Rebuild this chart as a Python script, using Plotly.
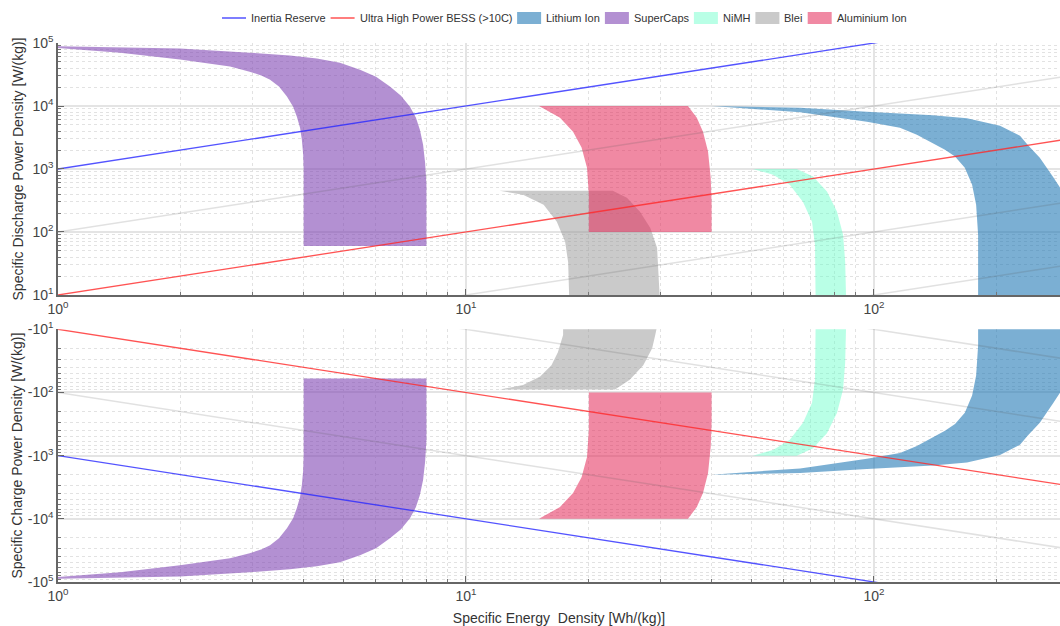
import plotly.graph_objects as go
from plotly.subplots import make_subplots

# ---------------- axis ticks ----------------
x_tickvals = [1, 10, 100]
x_ticktext = ["10<sup>0</sup>", "10<sup>1</sup>", "10<sup>2</sup>"]
y_tickvals = [10, 100, 1000, 10000, 100000]
y_top_ticktext = ["10<sup>1</sup>", "10<sup>2</sup>", "10<sup>3</sup>", "10<sup>4</sup>", "10<sup>5</sup>"]
y_bot_ticktext = ["-10<sup>1</sup>", "-10<sup>2</sup>", "-10<sup>3</sup>", "-10<sup>4</sup>", "-10<sup>5</sup>"]

# ---------------- reference C-rate lines (P = rate * E) ----------------
line_E = [0.5, 1000]
inertia_rate = 1000
bess_rate = 10
grey_rates = [0.1, 1, 100]

# ---------------- technology envelopes (E [Wh/kg], |P| [W/kg]) ----------------
# Lithium Ion - discharge
li_dis_outer_E = [40, 65.9, 96.1, 139.5, 169, 203.7, 228, 238, 255, 265.5, 274.6, 286, 295.5, 300.6, 300]
li_dis_outer_P = [10000, 9400, 8110, 7140, 6400, 4860, 3370, 2430, 1510, 1045, 752, 502, 187, 52, 5]
li_dis_inner_E = [40, 65.9, 96.1, 115.8, 127.4, 149.3, 158, 167, 174, 178, 180, 180]
li_dis_inner_P = [10000, 7960, 5620, 4520, 3500, 2020, 1580, 1045, 561, 270, 90, 5]
# Lithium Ion - charge
li_chg_outer_E = li_dis_outer_E
li_chg_outer_P = [2000, 1880, 1620, 1430, 1280, 972, 674, 486, 302, 209, 150, 100, 37, 10.4, 1]
li_chg_inner_E = li_dis_inner_E
li_chg_inner_P = [2000, 1590, 1124, 904, 700, 404, 316, 209, 112, 54, 18, 1]

# SuperCaps (discharge and charge)
sc_outer_E = [1.0, 1.42, 1.99, 2.95, 3.70, 4.31, 4.91, 5.50, 6.02, 6.51, 6.93, 7.29, 7.54, 7.71, 7.85, 7.94, 8.0, 8.0]
sc_outer_P = [89000, 86000, 81500, 70300, 63100, 56500, 48800, 37700, 29200, 20300, 14600, 9750, 6520, 4200, 2430, 1255, 561, 60]
sc_inner_E = [1.0, 1.42, 1.99, 2.64, 2.95, 3.16, 3.31, 3.48, 3.64, 3.77, 3.85, 3.92, 3.96, 3.99, 4.0, 4.0]
sc_inner_P = [83000, 70300, 54500, 42200, 35100, 30300, 26200, 20300, 14100, 9750, 6760, 4520, 2910, 1680, 970, 60]

# NiMH (discharge and charge)
nimh_outer_E = [64.7, 70.9, 76.7, 81.2, 84.0, 85.0, 85.4, 85.4]
nimh_outer_P = [1000, 760, 440, 210, 90, 34, 10, 5]
nimh_inner_E = [50.5, 56.6, 62.2, 67.0, 70.5, 71.7, 72.0, 72.0]
nimh_inner_P = [1000, 810, 560, 300, 146, 62, 10, 5]

# Blei (lead acid) - discharge
pb_dis_outer_E = [22.9, 24.8, 26.7, 28.3, 29.4, 29.7, 29.9, 30.0]
pb_dis_outer_P = [450, 350, 210, 116, 56, 23, 10, 5]
pb_dis_inner_E = [12.1, 13.8, 15.5, 16.7, 17.5, 17.8, 17.9, 17.9]
pb_dis_inner_P = [450, 390, 270, 145, 70, 33, 10, 5]
# Blei - charge
pb_chg_outer_E = [23.2, 25.2, 27.2, 28.6, 29.1, 29.3, 29.3]
pb_chg_outer_P = [90, 63, 37, 20, 12.3, 10, 5]
pb_chg_inner_E = [12.1, 13.8, 15.2, 16.2, 16.8, 17.3, 17.3]
pb_chg_inner_P = [90, 76, 56, 37, 23, 12.3, 5]

# Aluminium Ion (discharge and charge)
al_outer_E = [35, 36.8, 38.1, 39.2, 39.8, 40, 40]
al_outer_P = [10000, 6500, 3900, 1900, 720, 300, 100]
al_inner_E = [15.1, 17.0, 18.3, 19.2, 19.8, 20, 20]
al_inner_P = [10000, 6500, 3900, 2200, 1050, 400, 100]

# legend entries
legend_labels = ["Inertia Reserve", "Ultra High Power BESS (>10C)", "Lithium Ion",
                 "SuperCaps", "NiMH", "Blei", "Aluminium Ion"]

FONT = "Liberation Sans, Arial, sans-serif"
COL = {
    "Inertia Reserve": "rgba(40,40,255,0.8)",
    "Ultra High Power BESS (>10C)": "rgba(255,40,40,0.8)",
    "Lithium Ion": "rgba(31,119,180,0.59)",
    "SuperCaps": "rgba(128,70,180,0.6)",
    "NiMH": "rgba(100,255,200,0.45)",
    "Blei": "rgba(150,150,150,0.5)",
    "Aluminium Ion": "rgba(228,40,88,0.55)",
}

fig = make_subplots(rows=2, cols=1, shared_xaxes=False, vertical_spacing=0.0)


def polygon(oE, oP, iE, iP):
    return list(oE) + list(iE)[::-1], list(oP) + list(iP)[::-1]


techs = [
    ("Lithium Ion",
     (li_dis_outer_E, li_dis_outer_P, li_dis_inner_E, li_dis_inner_P),
     (li_chg_outer_E, li_chg_outer_P, li_chg_inner_E, li_chg_inner_P)),
    ("SuperCaps",
     (sc_outer_E, sc_outer_P, sc_inner_E, sc_inner_P),
     (sc_outer_E, sc_outer_P, sc_inner_E, sc_inner_P)),
    ("NiMH",
     (nimh_outer_E, nimh_outer_P, nimh_inner_E, nimh_inner_P),
     (nimh_outer_E, nimh_outer_P, nimh_inner_E, nimh_inner_P)),
    ("Blei",
     (pb_dis_outer_E, pb_dis_outer_P, pb_dis_inner_E, pb_dis_inner_P),
     (pb_chg_outer_E, pb_chg_outer_P, pb_chg_inner_E, pb_chg_inner_P)),
    ("Aluminium Ion",
     (al_outer_E, al_outer_P, al_inner_E, al_inner_P),
     (al_outer_E, al_outer_P, al_inner_E, al_inner_P)),
]

for name, dis, chg in techs:
    col = COL[name]
    for row, d in ((1, dis), (2, chg)):
        xs, ys = polygon(*d)
        fig.add_trace(go.Scatter(
            x=xs, y=ys, mode="lines", fill="toself", fillcolor=col,
            line=dict(width=0, color=col), name=name, legendgroup=name,
            showlegend=False, hoverinfo="skip"),
            row=row, col=1)

# grey reference lines
for r in grey_rates:
    for row in (1, 2):
        fig.add_trace(go.Scatter(
            x=line_E, y=[r * e for e in line_E], mode="lines",
            line=dict(color="rgba(90,90,90,0.18)", width=1.5),
            showlegend=False, hoverinfo="skip"), row=row, col=1)

for name, rate in (("Ultra High Power BESS (>10C)", bess_rate), ("Inertia Reserve", inertia_rate)):
    for row in (1, 2):
        fig.add_trace(go.Scatter(
            x=line_E, y=[rate * e for e in line_E], mode="lines",
            line=dict(color=COL[name], width=1.3), name=name, legendgroup=name,
            showlegend=False, hoverinfo="skip"),
            row=row, col=1)

# ---------------- custom legend (layout, pixel positions) ----------------
PLOT_L, PLOT_W, PLOT_B, PLOT_H = 58, 1002, 582, 539


def px2paper(x, y):
    return (x - PLOT_L) / PLOT_W, (PLOT_B - y) / PLOT_H


legend_symbol_x = [222, 330.6, 517.1, 604.9, 693.9, 755.4, 807.7]
SYM_W, TXT_GAP, LEG_Y = 24, 4, 18
shapes, annots = [], []
for i, name in enumerate(legend_labels):
    x0, yc = px2paper(legend_symbol_x[i], LEG_Y)
    x1, _ = px2paper(legend_symbol_x[i] + SYM_W, LEG_Y)
    if i < 2:
        shapes.append(dict(type="line", xref="paper", yref="paper", x0=x0, x1=x1, y0=yc, y1=yc,
                           line=dict(color=COL[name], width=1.5)))
    else:
        _, ya = px2paper(0, LEG_Y - 6)
        _, yb = px2paper(0, LEG_Y + 6)
        shapes.append(dict(type="rect", xref="paper", yref="paper", x0=x0, x1=x1, y0=yb, y1=ya,
                           fillcolor=COL[name], line=dict(width=0)))
    tx, _ = px2paper(legend_symbol_x[i] + SYM_W + TXT_GAP, LEG_Y)
    annots.append(dict(text=name, xref="paper", yref="paper", x=tx, y=yc, xanchor="left",
                       yanchor="middle", showarrow=False, xshift=-1,
                       font=dict(family=FONT, size=11, color="#333")))

axis_common = dict(
    type="log", showline=True, linecolor="#666", linewidth=1.5,
    ticks="inside", ticklen=6, tickcolor="#666", tickwidth=1,
    showgrid=True, gridcolor="#e4e4e4", gridwidth=1.5, zeroline=False,
    tickfont=dict(family=FONT, size=14, color="#444"),
    minor=dict(ticks="inside", ticklen=3, tickcolor="#777", showgrid=True,
               gridcolor="#e2e2e2", griddash="dot", gridwidth=1, dtick="D1"),
)

xr = [0, 2.456]
fig.update_xaxes(**axis_common, range=xr, tickmode="array", tickvals=x_tickvals,
                 ticktext=x_ticktext)
fig.update_xaxes(row=2, col=1,
                 title=dict(text="Specific Energy  Density [Wh/(kg)]", standoff=11,
                            font=dict(family=FONT, size=14, color="#333")))
fig.update_yaxes(**axis_common, tickmode="array", tickvals=y_tickvals)
fig.update_yaxes(row=1, col=1, range=[1, 5], ticktext=y_top_ticktext, domain=[0.5325, 1.0],
                 title=dict(text="Specific Discharge Power Density [W/(kg)]", standoff=6,
                            font=dict(family=FONT, size=14, color="#333")))
fig.update_yaxes(row=2, col=1, range=[5, 1], ticktext=y_bot_ticktext, domain=[0.0, 0.4688],
                 title=dict(text="Specific Charge Power Density [W/(kg)]", standoff=2,
                            font=dict(family=FONT, size=14, color="#333")))

fig.update_layout(
    width=1060, height=626,
    margin=dict(l=58, r=0, t=43, b=44),
    paper_bgcolor="white", plot_bgcolor="white",
    font=dict(family=FONT, size=12, color="#333"),
    showlegend=False,
    shapes=shapes, annotations=annots,
)

fig.write_html("out.html", config={"displayModeBar": False},
               post_script="document.body.style.margin='0';document.body.style.overflow='hidden';")
